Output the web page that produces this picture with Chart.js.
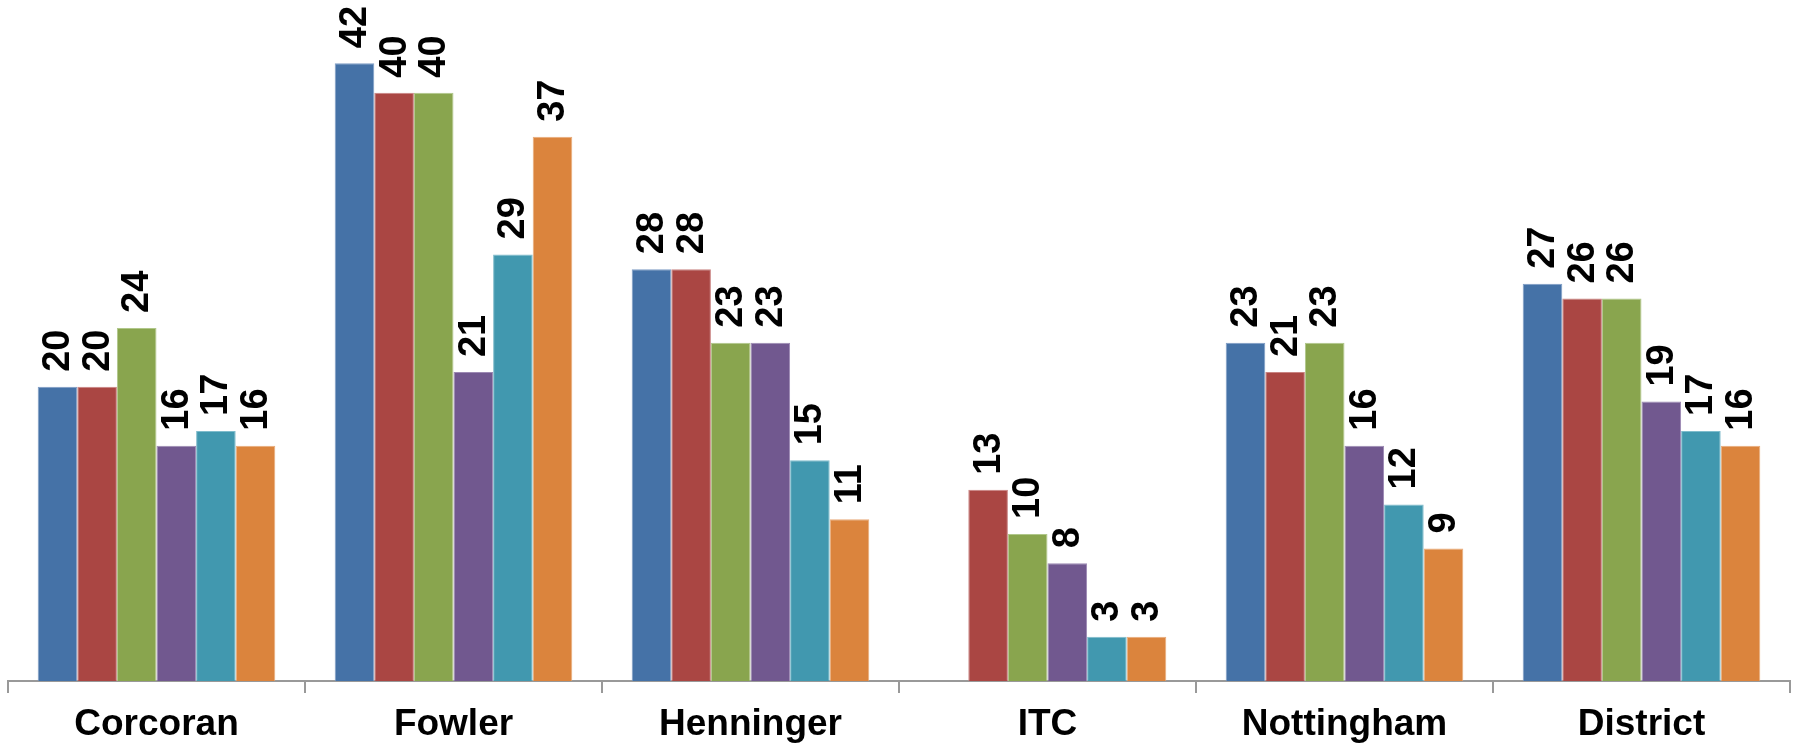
<!DOCTYPE html>
<html>
<head>
<meta charset="utf-8">
<script src="https://cdn.jsdelivr.net/npm/chart.js@4"></script>
<style>
  html, body { margin: 0; padding: 0; background: #fff; }
  #wrap { width: 1796px; height: 745px; }
</style>
</head>
<body>
<div id="wrap"><canvas id="schoolChart"></canvas></div>
<script>
const categories = ['Corcoran', 'Fowler', 'Henninger', 'ITC', 'Nottingham', 'District'];

const series1 = [20, 42, 28, null, 23, 27];
const series2 = [20, 40, 28, 13, 21, 26];
const series3 = [24, 40, 23, 10, 23, 26];
const series4 = [16, 21, 23, 8, 16, 19];
const series5 = [17, 29, 15, 3, 12, 17];
const series6 = [16, 37, 11, 3, 9, 16];

const seriesNames = ['Series 1', 'Series 2', 'Series 3', 'Series 4', 'Series 5', 'Series 6'];
const colors = ['#4572A7', '#AA4643', '#89A54E', '#71588F', '#4198AF', '#DB843D'];
const edges = ['#7e9cc4', '#c98381', '#b0c78a', '#9c89b3', '#7fbccc', '#e9ab7a'];

const allSeries = [series1, series2, series3, series4, series5, series6];

// value labels drawn rotated above each bar
const barLabels = {
  id: 'barLabels',
  afterDatasetsDraw(chart) {
    const ctx = chart.ctx;
    ctx.save();
    ctx.font = 'bold 38px "Liberation Sans", Arial, sans-serif';
    ctx.fillStyle = '#000';
    ctx.textAlign = 'left';
    ctx.textBaseline = 'middle';
    chart.data.datasets.forEach((ds, i) => {
      const meta = chart.getDatasetMeta(i);
      meta.data.forEach((bar, j) => {
        const v = ds.data[j];
        if (v === null || v === undefined) return;
        ctx.save();
        ctx.translate(bar.x + 1, bar.y - 15);
        ctx.rotate(-Math.PI / 2);
        ctx.fillText(String(v), 0, 0);
        ctx.restore();
      });
    });
    ctx.restore();
  }
};

new Chart(document.getElementById('schoolChart'), {
  type: 'bar',
  data: {
    labels: categories,
    datasets: allSeries.map((d, i) => ({
      label: seriesNames[i],
      data: d,
      backgroundColor: colors[i],
      borderColor: edges[i],
      borderWidth: 1,
      borderSkipped: 'bottom',
      barPercentage: 1,
      categoryPercentage: 0.8
    }))
  },
  options: {
    responsive: true,
    maintainAspectRatio: false,
    animation: false,
    layout: { padding: { left: 8, right: 6, top: 0, bottom: 0 } },
    plugins: {
      legend: { display: false },
      tooltip: { enabled: false }
    },
    scales: {
      y: {
        display: false,
        min: 0,
        max: 46.3
      },
      x: {
        afterFit: (scale) => { scale.height = 64; },
        border: { display: true, color: '#999999', width: 2 },
        grid: {
          offset: true,
          drawOnChartArea: false,
          drawTicks: true,
          tickLength: 12,
          color: '#999999',
          lineWidth: 2
        },
        ticks: {
          color: '#000',
          padding: 10,
          font: { family: '"Liberation Sans", Arial, sans-serif', size: 37, weight: 'bold' }
        }
      }
    }
  },
  plugins: [barLabels]
});
</script>
</body>
</html>
